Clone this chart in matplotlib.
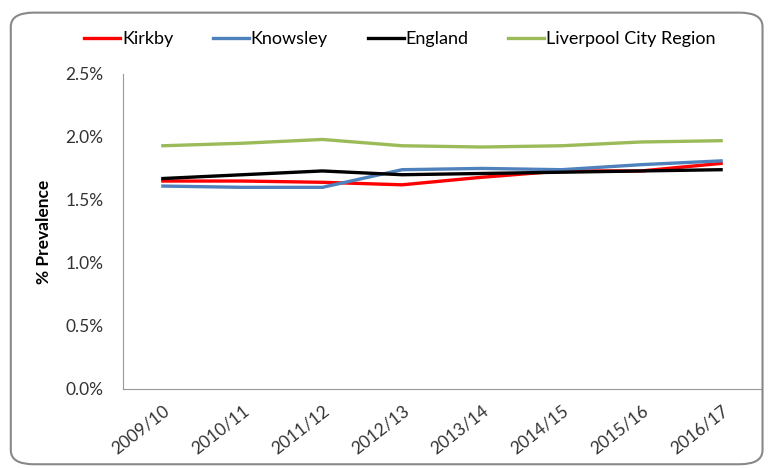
import matplotlib
matplotlib.use("Agg")
import matplotlib.pyplot as plt
from matplotlib.patches import FancyBboxPatch
from matplotlib.ticker import FuncFormatter
import numpy as np

plt.rcParams['font.family'] = ['Lato', 'DejaVu Sans']

years = ["2009/10", "2010/11", "2011/12", "2012/13", "2013/14", "2014/15", "2015/16", "2016/17"]
kirkby = [1.65, 1.65, 1.64, 1.62, 1.68, 1.73, 1.73, 1.79]
knowsley = [1.61, 1.60, 1.60, 1.74, 1.75, 1.74, 1.78, 1.81]
england = [1.67, 1.70, 1.73, 1.70, 1.71, 1.72, 1.73, 1.74]
lcr = [1.93, 1.95, 1.98, 1.93, 1.92, 1.93, 1.96, 1.97]

fig = plt.figure(figsize=(7.71, 4.68), dpi=100)
ax = fig.add_axes([0.1595, 0.169, 0.8275, 0.673])

x = np.arange(len(years))
ax.plot(x, kirkby, color="#FF0000", lw=2.4, label="Kirkby")
ax.plot(x, knowsley, color="#4F81BD", lw=2.4, label="Knowsley")
ax.plot(x, england, color="#000000", lw=2.4, label="England")
ax.plot(x, lcr, color="#9BBB59", lw=2.4, label="Liverpool City Region")

ax.set_xlim(-0.5, len(years) - 0.5)
ax.set_ylim(0, 2.5)
ax.set_yticks([0, 0.5, 1.0, 1.5, 2.0, 2.5])
ax.yaxis.set_major_formatter(FuncFormatter(lambda v, p: "%.1f%%" % v))
ax.set_xticks(x)
ax.set_xticklabels(years, rotation=38, ha="right", rotation_mode="anchor")
ax.tick_params(length=0, labelsize=12.5, colors="#333333")
ax.tick_params(axis="y", pad=14)
ax.tick_params(axis="x", pad=10)
for s in ["top", "right"]:
    ax.spines[s].set_visible(False)
for s in ["left", "bottom"]:
    ax.spines[s].set_color("#999999")
ax.set_ylabel("% Prevalence", fontsize=12.5, fontweight="bold", labelpad=10)

ax.legend(loc="center", bbox_to_anchor=(0.434, 1.111), ncol=4, frameon=False,
          fontsize=13, handlelength=2.0, handletextpad=0.1, columnspacing=2.2)

border = FancyBboxPatch((0.014, 0.008), 0.975, 0.965, boxstyle="round,pad=0,rounding_size=0.03",
                        transform=fig.transFigure, fill=False, edgecolor="#888888", lw=1.5)
fig.patches.append(border)

fig.savefig("out.png", dpi=100)
